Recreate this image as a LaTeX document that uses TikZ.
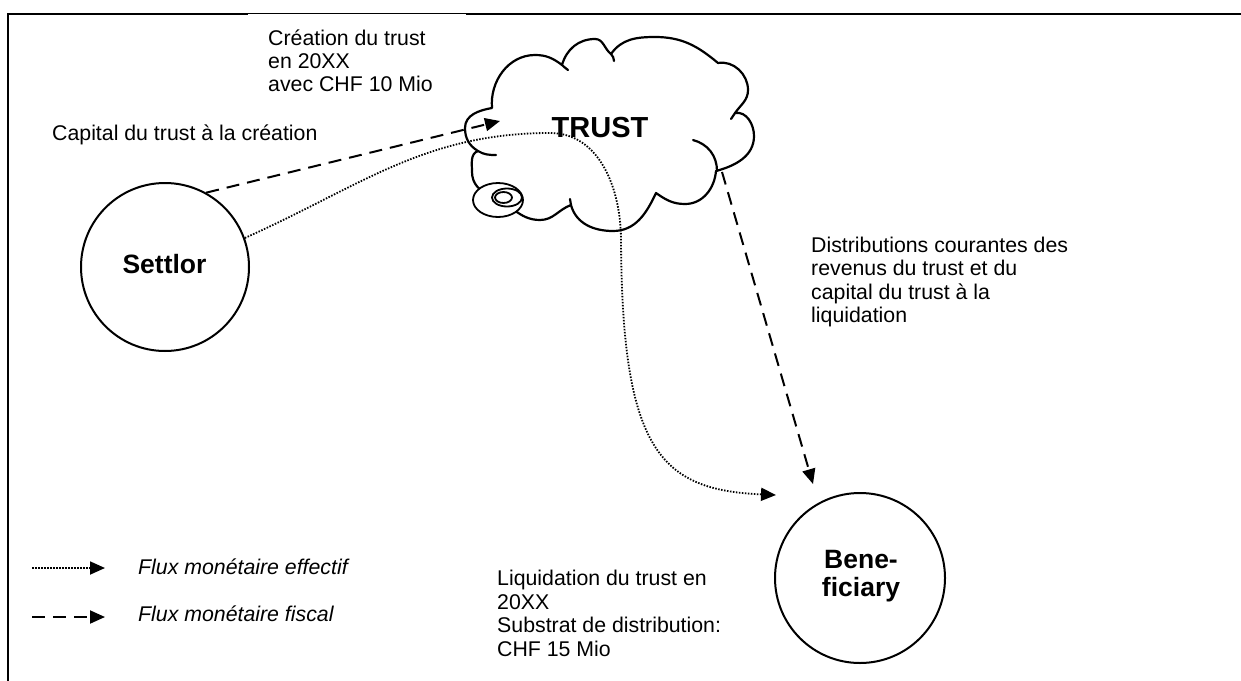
\documentclass[tikz,border=0pt]{standalone}
\usepackage{fontspec}
\setmainfont{Liberation Sans}
\usetikzlibrary{arrows.meta}
\begin{document}
\begin{tikzpicture}[x=1pt, y=1pt,
  frameline/.style={line width=2.2pt, line cap=rect},
  party/.style={circle, draw, line width=2pt, inner sep=0pt},
  namefont/.style={font=\fontsize{26.5}{27.7}\selectfont\bfseries, inner sep=0pt, align=center},
  txtnote/.style={font=\fontsize{21.3}{23.4}\selectfont, inner sep=0pt, align=left, anchor=base west},
  legendnote/.style={txtnote, font=\fontsize{21.3}{23.4}\selectfont\itshape},
  cloudline/.style={line width=2.2pt, line join=round, line cap=round},
  flowtip/.style={-{Triangle[length=15pt, width=13pt]}},
  fiscal/.style={flowtip, line width=2pt, dash pattern=on 13pt off 8pt},
  effectif/.style={flowtip, line width=1.8pt, dash pattern=on 1.5pt off 1.5pt},
]
\useasboundingbox (0,0) rectangle (1241,-680);

% frame (left and top edges)
\draw[frameline] (7.8,-680) -- (7.8,-13.7) -- (1241,-13.7);
% white text box of the creation note, overlapping the frame
\fill[white] (248,-14.4) rectangle (466,-100);

% ---- the trust cloud ----
\draw[cloudline, fill=white]
  (492,-108) to[out=95,in=180] (535,-55) to[out=0,in=143] (562,-65)
  to[out=74,in=180] (595,-39) to[out=0,in=143] (611,-54)
  to[out=55,in=180] (655,-37) to[out=0,in=140] (718,-63)
  to[out=10,in=90] (748,-90) to[out=-90,in=55] (735,-113)
  to[out=10,in=90] (754,-136) to[out=-90,in=15] (716,-171)
  to[out=-95,in=0] (685,-204) to[out=180,in=-35] (656,-193)
  to[out=-115,in=0] (613,-231) to[out=180,in=-75] (571,-205)
  to[out=200,in=0] (540,-220) to[out=180,in=-20] (490,-195)
  to[out=160,in=-90] (472,-172) to[out=90,in=200] (478,-151)
  to[out=149,in=-90] (465,-128) to[out=90,in=190] cycle;
% inner ends of the puffs
\draw[cloudline] (693,-140) to[out=-15,in=90] (717,-171);
\draw[cloudline] (478,-151) to[out=-31,in=180] (496,-155);
\draw[cloudline] (562,-65) to[out=-37,in=150] (568,-70);
\draw[cloudline] (611,-54) to[out=-40,in=100] (614,-61);
\draw[cloudline] (735,-113) to[out=235,in=60] (731,-119);
\draw[cloudline] (571,-205) to[out=100,in=-80] (570,-199);
% thought bubbles
\draw[cloudline, line width=1.8pt, fill=white] (498,-200) ellipse [x radius=25pt, y radius=17pt];
\draw[cloudline, line width=1.8pt] (507,-197.5) ellipse [x radius=15pt, y radius=9pt];
\draw[cloudline, line width=1.8pt] (503.5,-197.5) ellipse [x radius=8.5pt, y radius=5.5pt];

% ---- parties ----
\node[party, minimum size=168pt] (settlor) at (165,-267) {};
\node[party, minimum size=170pt] (ben) at (860,-578) {};

% ---- flows ----
\coordinate (trustIn) at (500,-121);
\coordinate (trustOut) at (722,-172);
\coordinate (dotPeak) at (550,-133);
\coordinate (dotBend) at (621,-240);
\coordinate (benTipFiscal) at (813,-484);
\coordinate (benTipCash) at (776,-495);

\draw[fiscal] (settlor.61) -- (trustIn);
\draw[fiscal] (trustOut) -- (benTipFiscal);
\draw[effectif] (settlor.20) to[out=24,in=180] (dotPeak) to[out=0,in=90] (dotBend)
  .. controls (622,-450) and (660,-490) .. (benTipCash);

% ---- labels (multi-line texts are placed by the baseline of their last line) ----
\node[namefont, font=\fontsize{29}{30}\selectfont\bfseries, anchor=base] (trustLbl) at (600,-137) {TRUST};
\node[namefont, anchor=base] (settlorLbl) at (164.5,-273) {Settlor};
\node[namefont, anchor=base] (benLbl) at (861,-596) {Bene-\\ficiary};

\node[txtnote] (creation) at (268,-91.8) {Création du trust\\en 20XX\\avec CHF 10 Mio};
\node[txtnote] (capital) at (52,-140) {Capital du trust à la création};
\node[txtnote] (distrib) at (811,-322.5) {Distributions courantes des\\revenus du trust et du\\capital du trust à la\\liquidation};
\node[txtnote] (liquid) at (497,-656) {Liquidation du trust en\\20XX\\Substrat de distribution:\\CHF 15 Mio};

% ---- legend ----
\coordinate (legCashA) at (32,-568);
\coordinate (legCashB) at (105,-568);
\coordinate (legFiscA) at (32,-617);
\coordinate (legFiscB) at (105,-617);
\draw[effectif] (legCashA) -- (legCashB);
\draw[fiscal] (legFiscA) -- (legFiscB);
\node[legendnote] (legCash) at (138,-574) {Flux monétaire effectif};
\node[legendnote] (legFisc) at (138,-621) {Flux monétaire fiscal};
\end{tikzpicture}
\end{document}
